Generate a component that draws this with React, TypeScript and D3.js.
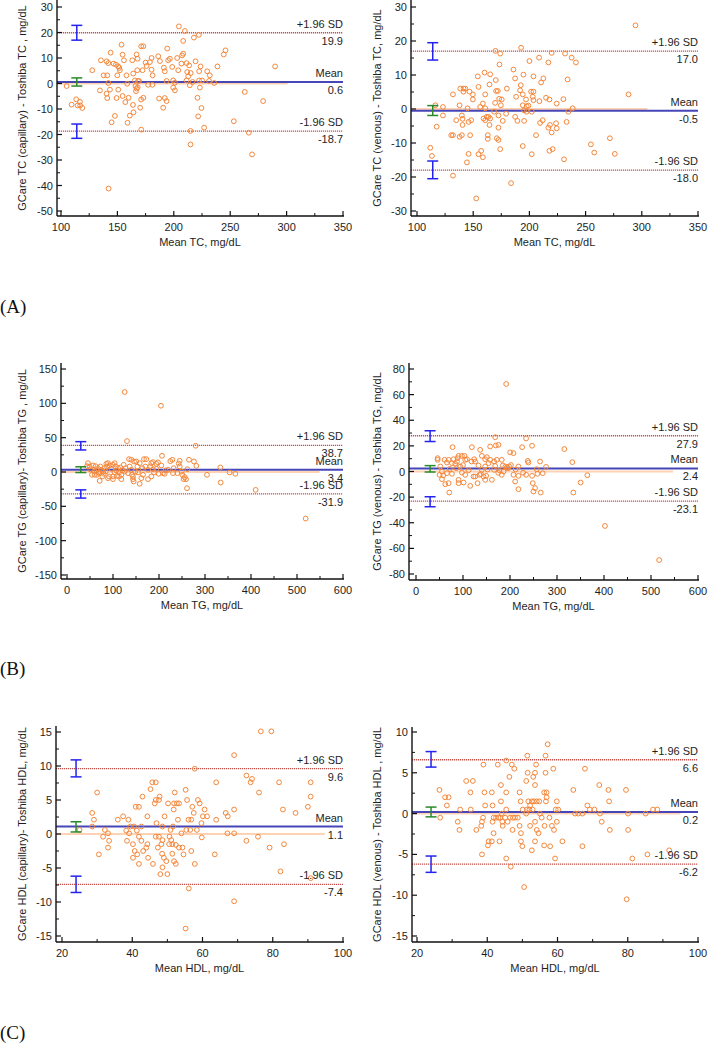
import React from "react";
import * as d3 from "d3";

// ---------- DATA ----------
const tcCapillary: [number, number][] = [
  [105,-1.0],[109.4,-8.3],[113.5,-6.2],[116.8,-7.2],[114.7,-8.6],[117,-8.6],[118.9,-9.6],
  [127.7,5.2],[135.4,9.1],[134.5,-2.7],[137.8,3.2],[141,3.2],[140.4,8.7],[142,8.0],[144,12.1],[143.4,-2.4],
  [140.4,-4],[141,-5.7],[142,0.2],[146.6,7.8],[148.7,7.4],[150.8,6.7],[147.8,-12.7],[144.9,-15.2],[149.3,-5.7],
  [150.8,-2.4],[149.9,3.2],[152.2,5.2],[151.7,6.1],[153.7,15.2],[154.6,11.3],[155.8,9.1],[154.6,-4.9],[157,-7.3],
  [158,3.2],[158.7,-0.1],[159,-15.4],[159.9,-5.6],[161,-12.6],[163.8,-8.4],[164.3,-11.3],[163.2,9.1],[164,3.9],
  [165.5,1.2],[167,11.4],[167.9,9.7],[167.6,5.2],[166,-1],[167,-2],[166.5,-3],[168,-1.5],[168.3,1.0],[169.2,1.0],
  [170.2,-9.5],[171.1,14.6],[173,14.6],[171.1,-18.1],[171,-6.3],[173,-5.6],[172.3,5.2],[175,8.2],[175.9,6.9],
  [177.3,-0.5],[178.8,8.4],[180.3,10],[180.3,5.4],[181.2,3.2],[181,-0.5],[186.2,10.7],[187.7,8.8],[187,-5.9],
  [190.6,-9.5],[191.2,6.2],[192,4.8],[192,-5.7],[193.6,-6.9],[194.2,13.7],[195,9.1],[196.5,9.7],[193.6,1.0],
  [199.5,1.2],[201,0.3],[199.5,-1.6],[201,-2.7],[198.6,6.5],[203,10],[203.9,5.2],[204.5,22.4],[206.8,7.8],
  [207.4,11],[208.3,11.7],[208.3,16.7],[209.8,20.6],[211.3,1.2],[211.9,4.5],[212.8,2.8],[211.3,8.0],[213.6,7.1],
  [215,4.1],[214.2,-0.7],[214.8,-18.6],[214.8,-23.9],[216.6,0.6],[217.8,18.0],[219.3,8.7],[221,-5.6],[221.6,-12.9],
  [222.2,19.1],[222.5,1.2],[225.1,1.2],[222.5,4.8],[223.1,-1.6],[223.7,6.7],[224.5,-9.6],[226.9,-17.3],[229.6,4.8],
  [231.3,1.0],[231.9,3.2],[235.8,0.2],[238.7,6.7],[244.3,11.4],[245.8,13],[253.2,-14.8],[262.9,-3.3],[266.5,-19.3],
  [269.4,-27.8],[279.2,-6.9],[289.8,6.7],[142.2,-41.2]
];

const tcVenous: [number, number][] = [
  [111.8,-11.4],[113.3,-13.8],[116.3,1.1],[117.5,-5.2],[123.1,0.6],[123.1,-1.9],[130.5,-7.7],[132,-7.7],[132,4.3],
  [132,-19.6],[134.9,-3.3],[137.9,1.1],[137.9,-8.2],[138.5,6.0],[141.4,6.0],[142.9,6.0],[139.9,-1.9],[140.5,-2.9],
  [140.5,-4.7],[139.9,-7.7],[141.4,5.1],[144.4,-15.7],[145,0.2],[145.9,-13.2],[145.9,-3.8],[146.7,5.1],[147.3,-7.7],
  [148.2,-3.3],[149.7,4.3],[149.7,2.8],[152.7,-26.3],[154.1,9.6],[154.7,6.5],[154.7,-13.3],[156.2,0.6],[157.1,-12.3],
  [158.6,-14.2],[158.6,1.6],[159.2,-2.8],[160.1,10.7],[160.7,4.3],[160.7,0.2],[160.7,-3.3],[162.1,-2.3],[163.6,-2.3],
  [163,-7.7],[163,-8.8],[164.5,7.2],[165.1,10.2],[164.5,-4.7],[165.1,-2.8],[168.6,-0.8],[169.5,1.8],[170.1,8.5],
  [169.8,17.1],[170.4,5.3],[171.9,5.3],[171,-8.6],[172.5,-9.1],[172.5,-1.9],[172.5,-5.5],[173.1,3.0],[173.4,13.1],
  [174,16.3],[174,-11.8],[174.6,1.1],[175.4,2.8],[176.3,-3.5],[179.9,6.0],[179.3,-1.4],[183.7,-21.8],[185.8,11.6],
  [187.3,9.0],[187.3,-2.3],[188.2,3.6],[189.3,-3.5],[191.7,5.5],[192.3,7.0],[192.6,18.0],[194.1,4.3],[194.1,1.1],
  [195.3,-0.4],[194.7,10.1],[194.1,-10.9],[195.3,-3.5],[197,2.8],[197.6,0.8],[199.1,1.0],[197.6,-0.8],[200,14.1],
  [201.5,5.1],[203.6,5.1],[202.1,-0.8],[202.1,-13.3],[203,3.6],[203.6,2.6],[203.6,9.6],[205.9,-7.7],[208.6,15.1],
  [208.9,2.3],[209.5,-4.1],[210.4,7.8],[211.8,-3.3],[212.4,9.0],[214.8,3.3],[216.9,13.7],[216.9,-5.5],[218.3,-4.7],
  [217.8,2.8],[217.8,-12.3],[219.8,16.5],[219.8,-6.9],[220.7,-11.8],[223.7,-4.2],[224.3,-5.7],[224.3,1.6],[230.2,2.9],
  [230.8,-14.8],[231.7,16.3],[233.1,-3.8],[234,8.7],[234.6,-0.8],[238.5,0.2],[237.6,15.1],[241.4,13.7],[254.7,-10.4],
  [257.7,-12.8],[271.6,-8.6],[276,-13.2],[288.2,4.3],[294.4,24.6]
];

const tgCapillary: [number, number][] = [
  [125.4,116.5],[204.3,96.5],[130.4,45],[279.7,38.2],[281.2,9.0],[276,15.3],[265.2,17.8],[245,16.3],[229,17.8],
  [224.6,15.8],[206.5,23.6],[205,9.5],[219.6,3.2],[214.5,2.3],[212.3,-2.6],[208.7,-1.7],[230.4,-1.7],[199.3,-2.6],
  [194.2,4.6],[197.8,13.9],[183.3,12.9],[187,14.4],[167.4,18.7],[172.5,18.7],[170.3,8],[176.1,3.2],[176.1,-10.4],
  [183.3,-6.5],[189.1,-0.7],[165.2,-4.1],[161.6,-9],[158,-17.2],[158,12.9],[152.9,8],[150.7,15.3],[145.7,15.3],
  [139.9,17.8],[134.8,18.7],[143.5,-6.5],[144.9,-13.8],[143.5,-10.4],[148.6,0.7],[139.9,3.2],[132.6,-1.7],[127.5,5.6],
  [123.2,10.5],[120.3,2.3],[118.1,-4.1],[113,-6.5],[118.1,-10.4],[105.8,8],[100,10.5],[103.6,12.9],[92.8,9.5],
  [89.1,12.9],[87,8],[81.9,5.6],[84.1,0.7],[91.3,-6.5],[89.1,-9],[100,-6.5],[100,-10.4],[76.8,-6.5],[71,-12.9],
  [72.5,8],[67.4,5.6],[63.8,2.3],[60.1,0.7],[56.5,9.5],[45.7,12.9],[49.3,8],[54.3,-4.1],[60.1,-4.1],[65.2,-4.1],
  [71,-1.7],[78.3,0.7],[107.2,2.3],[110.9,5.6],[113,-0.7],[250.7,-4.1],[249.3,0.7],[253.6,-10.4],[256,-7.5],
  [258.7,-10.5],[260.9,-23.6],[261.6,4.1],[304.3,-4.1],[333.3,6.6],[334.1,-15.3],[353.6,-0.7],[365.9,-2.6],
  [410.1,-26],[518.8,-67.8],[231.9,5.6],[245,8],[240,-1.7],[242.8,12.4],[194.2,12],[43.5,8.5],[50.7,3.6],[62.3,8.5],
  [68.1,-0.7],[74.6,3.2],[79.7,-2.6],[85.5,12],[96.4,4.6],[103.6,-0.7],[108.7,-5.6],[115.9,6.6],[125.4,0.7],
  [136.2,8],[141.3,-4.1],[154.3,-0.7],[163.8,5.6],[181.2,8],[187,4.1]
];

const tgVenous: [number, number][] = [
  [191.8,68.3],[77.8,19.0],[118.9,19.0],[136.6,16.9],[157.8,19.5],[168.4,26.8],[169.9,20.3],[175.4,20.8],[234.3,25.8],
  [225.8,19.0],[247,20.1],[200.3,14.9],[207.4,14.3],[237.8,8.3],[239.2,7.0],[264,7.8],[276.7,3.6],[218,3.9],
  [198.2,3.9],[193.2,2.9],[184.7,4.7],[182.5,9.1],[171.9,9.1],[166.2,7.8],[157.8,9.1],[150.7,11.2],[147.2,9.6],
  [140.1,12.2],[147.2,3.9],[133,4.7],[125.9,7.8],[123.8,9.6],[108.3,9.6],[103.3,12.2],[97.7,12.2],[104.7,9.1],
  [90.6,12.2],[88.5,10.4],[80,9.6],[87.1,7.8],[83.5,6.0],[76.4,6.5],[69.4,9.1],[65.8,7],[60.9,9.1],[46,10.4],
  [46,9.1],[51.7,3.9],[55.2,0],[50.2,-2.6],[55.2,-6],[62.3,-9.9],[69.4,-9.1],[70.8,-16.4],[76.4,-1.8],[65.8,-1.3],
  [90.6,-6.5],[90.6,-9.1],[101.2,-8.6],[104.7,-2.6],[97.7,-0.8],[85.6,2.6],[94.1,3.9],[115.4,-11.2],[126,-3.9],
  [130.9,-9.1],[135.2,-2.6],[140.1,1.3],[143.7,-3.9],[147.2,-6.5],[149.3,-3.4],[161.4,-6.5],[166.2,1.3],[168.4,4.4],
  [177.6,0.8],[182.5,-2.6],[207.4,-2.6],[210.9,-7.8],[218,-13.8],[218,-3.4],[234.3,-2.6],[247,-3.4],[248.4,-9.1],
  [249.8,-15.6],[253.4,-13],[256.9,1.8],[258.3,-1.8],[265.4,-16.4],[269.6,-1.3],[315.6,17.5],[332.6,7.3],[334.7,-16.4],
  [350.3,-8.6],[364.5,-2.9],[402,-42.5],[517.3,-69.1],[190.3,3.9],[196,2.6],[118.2,7.8],[122.4,-3.9],[186.1,0],
  [154.3,6.5],[58,-3],[72,2],[112,1],[100,5],[138,-2],[152,1.5],[175,-1],[202,5],[212,1.5],[228,-1]
];

const hdlCapillary: [number, number][] = [
  [25,0.6],[28.6,3.1],[29.1,2.1],[28.6,1.1],[30,6.1],[30.5,-3],[31.7,-0.4],[32.2,0.6],[33.1,0.1],[33.4,-1],[33.1,-2],
  [35.9,2.1],[37.4,2.6],[38.3,0.5],[38.9,2.1],[38.5,-1],[39.1,0.1],[39.5,1.1],[40.5,1.1],[40.2,-1.5],[40.2,-3.5],
  [40.7,-2.5],[41,4.0],[41.9,4.0],[41.3,0.5],[41.4,-3],[41.9,-0.4],[41.9,-4.4],[42.6,-1],[42.6,1.1],[42.9,5.5],
  [43.1,-2.5],[44,-2],[44.3,-1.5],[44.3,2.6],[44.5,-3.5],[45.2,6.6],[45.7,7.6],[46.7,7.6],[45.9,-4.4],[46.4,4.5],
  [46.7,5.0],[46.9,1.6],[46.7,-0.4],[47.3,-2],[47.6,-0.4],[47.6,5.0],[47.8,5.5],[48,-5.9],[48.3,-1.5],[48.6,-0.9],
  [48.6,1.1],[48.5,-2.9],[48.6,-4.9],[49,-3.5],[49.2,2.6],[49.7,-4.0],[50.2,4.5],[50,-5.9],[50.5,-1.5],[50.6,-0.4],
  [51.1,-0.9],[50.9,0.6],[51.4,-1.5],[51.4,-2.9],[51.6,1.1],[51.8,3.6],[52.1,6.1],[51.9,-4],[52.4,-4.4],[51.9,4.5],
  [52.7,4.5],[52.4,-1.6],[53,2.1],[53.3,4.5],[53.3,-2],[54,0.1],[54.3,-2],[54.6,-3],[55.2,6.5],[55.6,5],[55.2,-13.9],
  [55.4,0.6],[56,2.1],[56.8,2.1],[56.1,-8],[56.5,0.6],[56.8,-2.5],[57.1,4.0],[57.5,3.1],[57.8,-4.4],[57.8,9.6],
  [58.4,0.6],[58.7,5],[59.2,4.5],[59.7,1.6],[59.8,-0.5],[60.1,2.6],[60.6,3.6],[61.3,2.6],[63.5,-3],[63.9,7.6],
  [63.9,2.1],[66.6,3.1],[67.2,2.6],[67.1,0.1],[69,3.6],[69,11.6],[69,0.1],[69,-9.9],[72.5,8.6],[72.5,-1],[73.7,7.6],
  [74.1,8.1],[75.8,-0.4],[76.1,6.1],[76.6,15.1],[79.1,-2],[79.6,15.1],[81.8,7.6],[82.2,-5.5],[82.9,3.6],[83.2,-1.5],
  [86.5,3.1],[90,4.0],[90.8,5.5],[90.8,7.6],[90.8,-6.5]
];

const hdlVenous: [number, number][] = [
  [26.4,2.9],[26.6,-0.5],[28,2.0],[29,2.0],[28.5,1.0],[31.6,-1.0],[32.1,-2.0],[32.3,0.5],[34,4.0],[35.9,4.0],
  [35.2,2.6],[35.3,0.5],[36.9,-2.0],[38.3,-1.5],[38.5,-1.0],[38.8,-0.5],[38.5,-5.0],[38.9,6.0],[39.2,2.6],[39.4,1.0],
  [40.4,-3.4],[40.2,-3.9],[41.3,-3.4],[41.3,2.6],[41.5,1.0],[41.5,-1.0],[41.8,-0.5],[41.8,-2.4],[42.5,-0.5],
  [43.2,-0.5],[43.7,-0.5],[43,6.0],[43.5,-3.4],[43.9,3.5],[43.9,1.5],[44.1,0],[44.3,-1.0],[44.4,-1.5],[45.1,-0.5],
  [45.4,6.5],[45.4,2.6],[45.4,0.5],[45.4,-5.5],[45.8,-1.0],[46.3,4.5],[46.5,-0.5],[47.3,-0.5],[47.9,-0.5],[46.7,-6.5],
  [47,6.0],[47.2,-2.0],[47.7,5.5],[48.7,-0.5],[49.2,2.6],[49.2,-1.5],[49.5,1.5],[49.6,-2.4],[49.6,-3.4],[50,-4.0],
  [50.1,0.5],[50.5,-9.0],[51.1,0],[51.3,0.5],[51.1,4.0],[51.4,7.1],[51.5,5.0],[51.7,1.5],[52.2,1.0],[52.7,1.5],
  [53.3,1.5],[54.1,1.5],[54.8,1.5],[52,0.5],[52.9,0.5],[52.2,-1.5],[52.7,-4.5],[53.1,4.5],[53.6,5.0],[53.6,3.5],
  [53.6,-1.0],[53.6,-3.4],[53.9,6.0],[54.1,-2.0],[54.6,-2.4],[55,0],[55.5,-0.5],[56.2,2.6],[56.9,2.6],[56.2,-3.9],
  [56.3,-1.5],[56.6,5.0],[56.6,7.1],[56.7,1.5],[56.9,2.0],[57.2,8.5],[57.7,-0.5],[57.9,-4.0],[58.4,-1.5],[58.8,5.5],
  [59,-2.0],[59.3,-5.5],[59.5,0.5],[59.8,1.5],[59.8,-1.0],[60.2,0.5],[61.4,-3.4],[64.5,2.9],[65,0],[65.9,0],[67.1,0],
  [67.1,-4.0],[67.8,5.5],[68.5,1.0],[69.2,0.5],[70.5,0.5],[71.9,3.5],[72.1,0],[72.6,-1.0],[74.5,2.9],[74.7,1.5],
  [74.9,-2.0],[79.5,2.9],[79.7,-10.5],[80.1,0],[80.1,-2.0],[81.3,-5.5],[85.1,0],[85.6,-5.0],[87.2,0.5],[88.4,0.5],
  [91.8,-4.5]
];

// Bland-Altman statistics: [lower LoA, mean, upper LoA]
const limitsTC_cap = [-18.7, 0.6, 19.9];
const limitsTC_ven = [-18.0, -0.5, 17.0];
const limitsTG_cap = [-31.9, 3.4, 38.7];
const limitsTG_ven = [-23.1, 2.4, 27.9];
const limitsHDL_cap = [-7.4, 1.1, 9.6];
const limitsHDL_ven = [-6.2, 0.2, 6.6];

// 95% CIs: [lowerLoA lo, hi], [mean lo, hi], [upperLoA lo, hi]
const ciTC_cap = [[-21.5, -15.9], [-1.0, 2.2], [17.0, 22.8]];
const ciTC_ven = [[-20.5, -15.3], [-1.9, 1.0], [14.4, 19.5]];
const ciTG_cap = [[-38, -26], [-0.8, 7.6], [32.1, 44.2]];
const ciTG_ven = [[-27.5, -19.7], [-0.4, 4.6], [23.4, 31.8]];
const ciHDL_cap = [[-8.6, -6.2], [0.3, 1.8], [8.4, 10.9]];
const ciHDL_ven = [[-7.2, -5.2], [-0.4, 0.8], [5.7, 7.6]];

const xTicksTC = [100, 150, 200, 250, 300, 350];
const xTicksTG = [0, 100, 200, 300, 400, 500, 600];
const xTicksHDL = [20, 40, 60, 80, 100];
const yTicksTC_cap = [-50, -40, -30, -20, -10, 0, 10, 20, 30];
const yTicksTC_ven = [-30, -20, -10, 0, 10, 20, 30];
const yTicksTG_cap = [-150, -100, -50, 0, 50, 100, 150];
const yTicksTG_ven = [-80, -60, -40, -20, 0, 20, 40, 60, 80];
const yTicksHDL_cap = [-15, -10, -5, 0, 5, 10, 15];
const yTicksHDL_ven = [-15, -10, -5, 0, 5, 10];

const ciXPos = [114, 114, 30, 30, 24, 24];
const zeroLineEnd = [301, 305, 549, 547, 94.8, 95];

const xTitles = ["Mean TC, mg/dL", "Mean TC, mg/dL", "Mean TG, mg/dL", "Mean TG, mg/dL", "Mean HDL, mg/dL", "Mean HDL, mg/dL"];
const yTitles = [
  "GCare TC (capillary) - Toshiba TC , mg/dL",
  "GCare TC (venous) - Toshiba TC, mg/dL",
  "GCare TG (capillary)- Toshiba TG , mg/dL",
  "GCare TG (venous) - Toshiba TG, mg/dL",
  "GCare HDL (capillary)- Toshiba HDL, mg/dL",
  "GCare HDL (venous) - Toshiba HDL , mg/dL",
];
const panelLetters = ["(A)", "(B)", "(C)"];

// ---------- LAYOUT ----------
type Layout = { xr: [number, number]; yr: [number, number]; axisX: number; axisY: number; top: number; titleOff: number };
const layouts: Layout[] = [
  { xr: [61, 343], yr: [7, 211], axisX: 57, axisY: 216, top: 0, titleOff: 31 },
  { xr: [417, 698], yr: [7, 211], axisX: 411, axisY: 216, top: 0, titleOff: 30.5 },
  { xr: [67, 343], yr: [369, 575], axisX: 61, axisY: 579, top: 363, titleOff: 35 },
  { xr: [416, 698], yr: [369, 574], axisX: 409, axisY: 580, top: 363, titleOff: 28.5 },
  { xr: [62, 343], yr: [732, 936], axisX: 56, axisY: 942, top: 726, titleOff: 30.5 },
  { xr: [417, 698], yr: [732, 936], axisX: 412, axisY: 942, top: 727, titleOff: 31.5 },
];
const letterY = [313, 675, 1039];

const panels = [
  { data: tcCapillary, lim: limitsTC_cap, ci: ciTC_cap, xt: xTicksTC, yt: yTicksTC_cap },
  { data: tcVenous, lim: limitsTC_ven, ci: ciTC_ven, xt: xTicksTC, yt: yTicksTC_ven },
  { data: tgCapillary, lim: limitsTG_cap, ci: ciTG_cap, xt: xTicksTG, yt: yTicksTG_cap },
  { data: tgVenous, lim: limitsTG_ven, ci: ciTG_ven, xt: xTicksTG, yt: yTicksTG_ven },
  { data: hdlCapillary, lim: limitsHDL_cap, ci: ciHDL_cap, xt: xTicksHDL, yt: yTicksHDL_cap },
  { data: hdlVenous, lim: limitsHDL_ven, ci: ciHDL_ven, xt: xTicksHDL, yt: yTicksHDL_ven },
];

const FONT = "'Liberation Sans', Arial, Helvetica, sans-serif";
const TXT = "#1e1e1e";
const ORANGE = "#f5873a";
const MEANBLUE = "#4646b8";
const CIBLUE = "#2323f0";
const CIGREEN = "#2a8a2a";
const SDRED = "#c4504c";
const ZERO = "#ffd2b4";

function mids(t: number[]) {
  const m: number[] = [];
  for (let i = 0; i < t.length - 1; i++) m.push((t[i] + t[i + 1]) / 2);
  return m;
}

function fmt(v: number) {
  return v.toFixed(1);
}

function Panel({ idx }: { idx: number }) {
  const p = panels[idx];
  const L = layouts[idx];
  const x = d3.scaleLinear().domain([p.xt[0], p.xt[p.xt.length - 1]]).range(L.xr);
  const y = d3.scaleLinear().domain([p.yt[p.yt.length - 1], p.yt[0]]).range(L.yr);
  const right = L.xr[1];
  const ciX = x(ciXPos[idx]);
  const cap = 5.5;
  const labelNames = ["-1.96 SD", "Mean", "+1.96 SD"];
  const midY = (L.top + L.axisY) / 2;
  return (
    <g>
      {/* zero line */}
      <line x1={L.axisX} x2={x(zeroLineEnd[idx])} y1={y(0)} y2={y(0)} stroke={ZERO} strokeWidth={2} />
      {/* SD lines */}
      {[p.lim[0], p.lim[2]].map((v, i) => (
        <line key={"sd" + i} x1={L.axisX} x2={right} y1={y(v)} y2={y(v)} stroke={SDRED} strokeWidth={1.3} strokeDasharray="1.2,0.8" />
      ))}
      {/* mean line */}
      <line x1={L.axisX} x2={right} y1={y(p.lim[1])} y2={y(p.lim[1])} stroke={MEANBLUE} strokeWidth={2} />
      {/* points */}
      {p.data.map((d, i) => (
        <circle key={i} cx={x(d[0])} cy={y(d[1])} r={2.4} fill="none" stroke={ORANGE} strokeWidth={1} />
      ))}
      {/* CI bars */}
      {p.ci.map((c, i) => {
        const col = i === 1 ? CIGREEN : CIBLUE;
        return (
          <g key={"ci" + i} stroke={col} strokeWidth={1.5}>
            <line x1={ciX} x2={ciX} y1={y(c[0])} y2={y(c[1])} />
            <line x1={ciX - cap} x2={ciX + cap} y1={y(c[0])} y2={y(c[0])} />
            <line x1={ciX - cap} x2={ciX + cap} y1={y(c[1])} y2={y(c[1])} />
          </g>
        );
      })}
      {/* limit labels */}
      {p.lim.map((v, i) => (
        <g key={"lab" + i} fontFamily={FONT} fontSize={11} fill={TXT} textAnchor="end">
          <text x={right} y={y(v) - 5}>{labelNames[i]}</text>
          <text x={right} y={y(v) + 12}>{fmt(v)}</text>
        </g>
      ))}
      {/* axes */}
      <line x1={L.axisX} x2={L.axisX} y1={L.top} y2={L.axisY} stroke="#111" strokeWidth={1.4} />
      <line x1={L.axisX} x2={right + 1} y1={L.axisY} y2={L.axisY} stroke="#111" strokeWidth={1.4} />
      {p.yt.map((t) => (
        <g key={"yt" + t}>
          <line x1={L.axisX} x2={L.axisX + 5} y1={y(t)} y2={y(t)} stroke="#111" strokeWidth={1.2} />
          <text x={L.axisX - 4} y={y(t) + 4} textAnchor="end" fontFamily={FONT} fontSize={11} fill={TXT}>{t}</text>
        </g>
      ))}
      {mids(p.yt).map((t) => (
        <line key={"ym" + t} x1={L.axisX} x2={L.axisX + 3} y1={y(t)} y2={y(t)} stroke="#111" strokeWidth={1} />
      ))}
      {p.xt.map((t) => (
        <g key={"xt" + t}>
          <line x1={x(t)} x2={x(t)} y1={L.axisY} y2={L.axisY - 5} stroke="#111" strokeWidth={1.2} />
          <text x={x(t)} y={L.axisY + 15} textAnchor="middle" fontFamily={FONT} fontSize={11} fill={TXT}>{t}</text>
        </g>
      ))}
      {mids(p.xt).map((t) => (
        <line key={"xm" + t} x1={x(t)} x2={x(t)} y1={L.axisY} y2={L.axisY - 3} stroke="#111" strokeWidth={1} />
      ))}
      {/* titles */}
      <text x={(L.axisX + right) / 2} y={L.axisY + 30} textAnchor="middle" fontFamily={FONT} fontSize={11} fill={TXT}>
        {xTitles[idx]}
      </text>
      <text
        transform={`translate(${L.axisX - L.titleOff},${midY}) rotate(-90)`}
        textAnchor="middle"
        fontFamily={FONT}
        fontSize={11}
        fill={TXT}
      >
        {yTitles[idx]}
      </text>
    </g>
  );
}

export default function App() {
  return (
    <svg
      width={709}
      height={1045}
      viewBox="0 0 709 1045"
      style={{ position: "absolute", left: 0, top: 0, background: "#fff" }}
    >
      <rect x={0} y={0} width={709} height={1045} fill="#fff" />
      {panels.map((_, i) => (
        <Panel key={i} idx={i} />
      ))}
      {panelLetters.map((t, i) => (
        <text key={t} x={0} y={letterY[i]} fontFamily="'Liberation Serif', 'Times New Roman', serif" fontSize={19} fill="#111">
          {t}
        </text>
      ))}
    </svg>
  );
}
